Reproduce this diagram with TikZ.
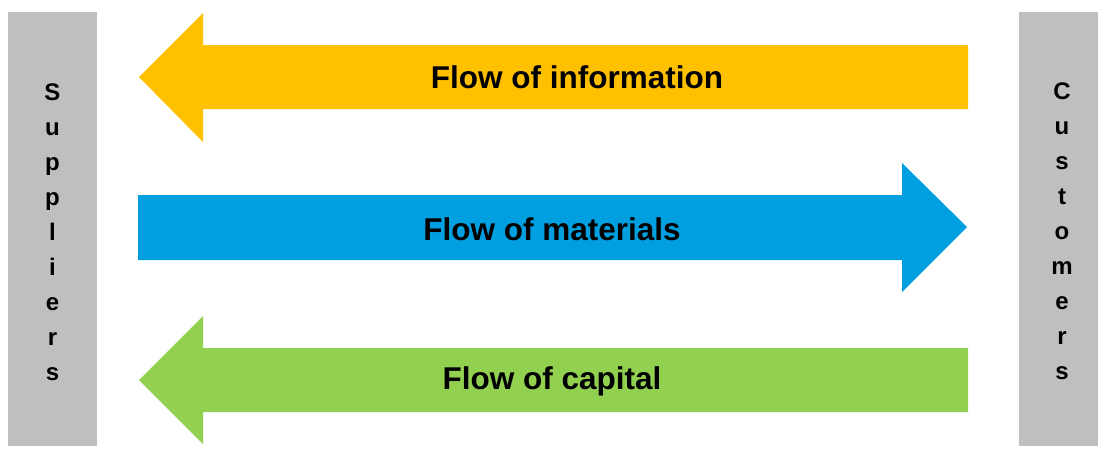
\documentclass[tikz,border=0pt]{standalone}
\usepackage{fontspec}
\setmainfont{Liberation Sans}
\usepackage{xcolor}
\definecolor{infoyellow}{HTML}{FFC000}
\definecolor{matblue}{HTML}{00A0E0}
\definecolor{capgreen}{HTML}{92D050}
\definecolor{sidegray}{HTML}{BFBFBF}
\tikzstyle{side}=[fill=sidegray, draw=none]
\tikzstyle{side label}=[align=center, font=\bfseries\fontsize{24}{35}\selectfont, inner sep=0pt]
\tikzstyle{flow label}=[font=\bfseries\fontsize{31.5}{36}\selectfont, inner sep=0pt]
\tikzstyle{info arrow}=[fill=infoyellow, draw=none]
\tikzstyle{mat arrow}=[fill=matblue, draw=none]
\tikzstyle{cap arrow}=[fill=capgreen, draw=none]

\begin{document}
\begin{tikzpicture}[x=1pt, y=-1pt]
        		\useasboundingbox (0, 0) rectangle (1098, 469);
        		\fill [style=side] (8, 12) rectangle (97, 446);
        		\fill [style=side] (1019, 12) rectangle (1098, 446);
        		\fill [style=info arrow] (968, 45) -- (203, 45) -- (203, 13) -- (139, 77) -- (203, 142) -- (203, 109) -- (968, 109) -- cycle;
        		\fill [style=mat arrow] (138, 195) -- (902, 195) -- (902, 163) -- (967, 227) -- (902, 292) -- (902, 260) -- (138, 260) -- cycle;
        		\fill [style=cap arrow] (968, 348) -- (203, 348) -- (203, 316) -- (139, 380) -- (203, 444) -- (203, 412) -- (968, 412) -- cycle;
        		\node [style=side label] (0) at (52.5, 232) {S\\u\\p\\p\\l\\i\\e\\r\\s};
        		\node [style=side label] (1) at (1062, 231) {C\\u\\s\\t\\o\\m\\e\\r\\s};
        		\node [style=flow label] (2) at (577, 77) {Flow of information};
        		\node [style=flow label] (3) at (552, 229) {Flow of materials};
        		\node [style=flow label] (4) at (552, 381) {Flow of capital};
        \end{tikzpicture}
\end{document}
